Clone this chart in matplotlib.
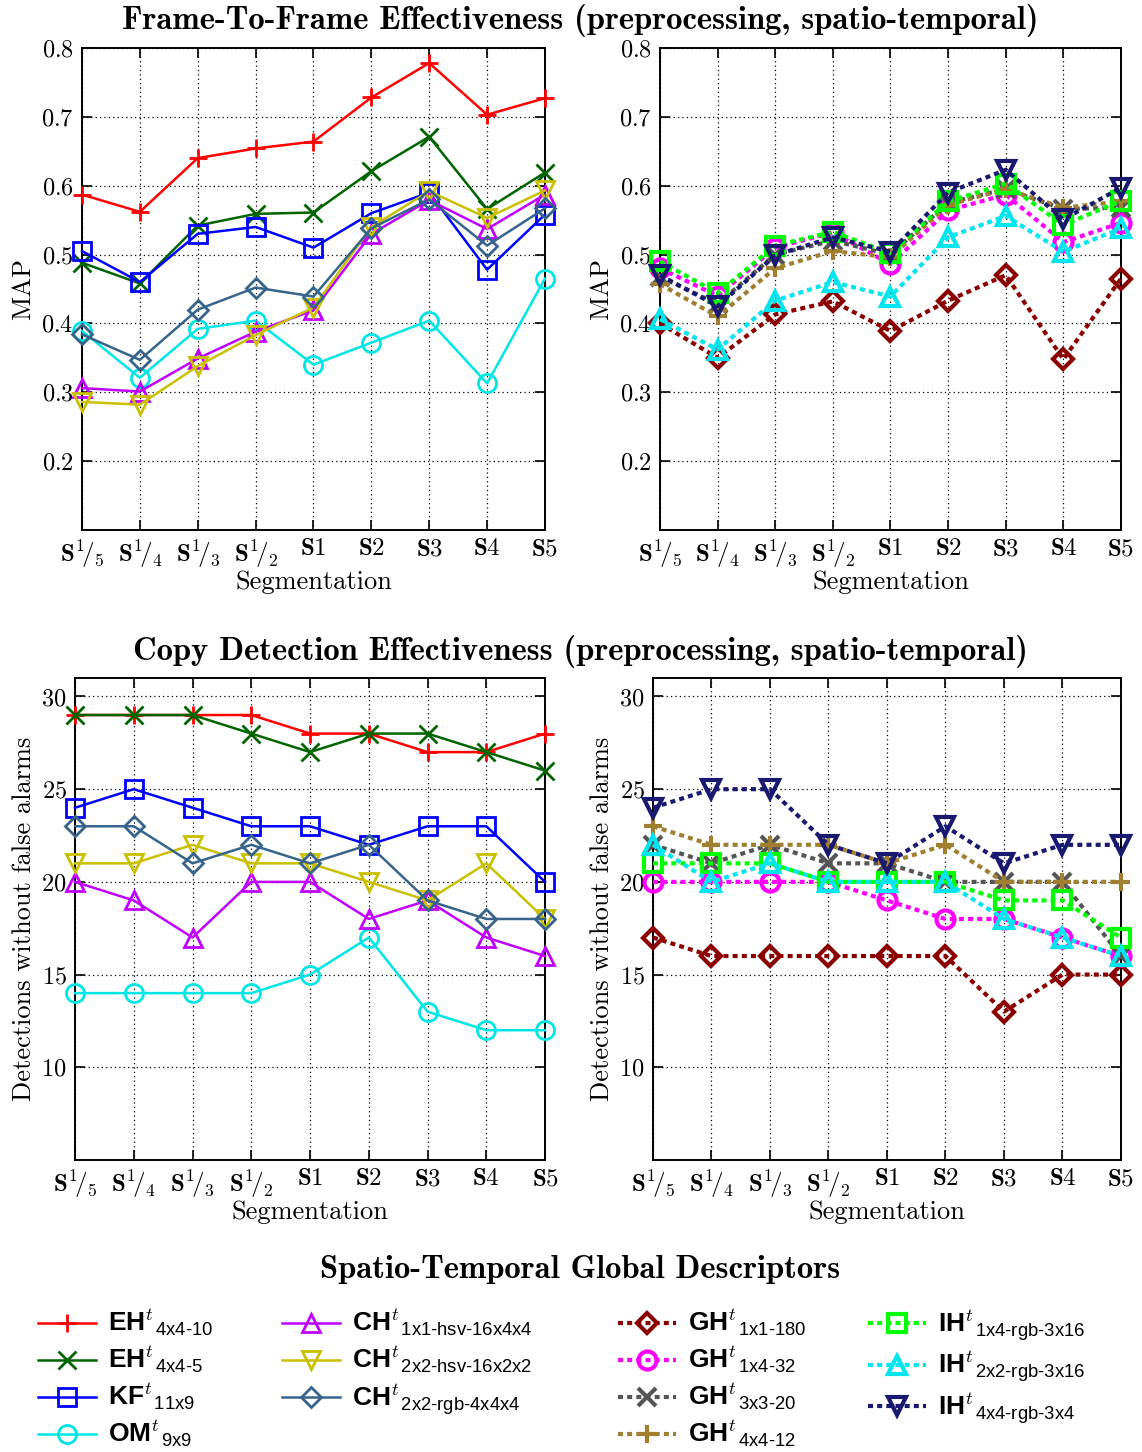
import numpy as np
import matplotlib
matplotlib.use('Agg')
import matplotlib.pyplot as plt

# fonts: computer-modern look for axes, helvetica-like for the legend
plt.rcParams['font.family'] = 'cmr10'
plt.rcParams['axes.formatter.use_mathtext'] = True
plt.rcParams['mathtext.fontset'] = 'custom'
plt.rcParams['mathtext.rm'] = 'Liberation Sans'
plt.rcParams['mathtext.bf'] = 'Liberation Sans:bold'
plt.rcParams['mathtext.it'] = 'cmmi10'

# x categories
segments = [r'$\mathbf{S^1\!/_5}$', r'$\mathbf{S^1\!/_4}$', r'$\mathbf{S^1\!/_3}$',
            r'$\mathbf{S^1\!/_2}$', r'$\mathbf{S1}$', r'$\mathbf{S2}$',
            r'$\mathbf{S3}$', r'$\mathbf{S4}$', r'$\mathbf{S5}$']

# ---- left group (solid lines) ----
left_labels = [r'$\mathbf{EH}^{t}{}_{\mathrm{4x4}\text{-}\mathrm{10}}$',
               r'$\mathbf{EH}^{t}{}_{\mathrm{4x4}\text{-}\mathrm{5}}$',
               r'$\mathbf{KF}^{t}{}_{\mathrm{11x9}}$',
               r'$\mathbf{OM}^{t}{}_{\mathrm{9x9}}$',
               r'$\mathbf{CH}^{t}{}_{\mathrm{1x1}\text{-}\mathrm{hsv}\text{-}\mathrm{16x4x4}}$',
               r'$\mathbf{CH}^{t}{}_{\mathrm{2x2}\text{-}\mathrm{hsv}\text{-}\mathrm{16x2x2}}$',
               r'$\mathbf{CH}^{t}{}_{\mathrm{2x2}\text{-}\mathrm{rgb}\text{-}\mathrm{4x4x4}}$']
left_colors = ['#ff0000', '#006400', '#0000ff', '#00e5e5', '#c000ff', '#c8c000', '#36648b']
left_markers = ['+', 'x', 's', 'o', '^', 'v', 'D']

map_eh10 = [0.587, 0.562, 0.640, 0.654, 0.664, 0.728, 0.778, 0.703, 0.727]
map_eh5 = [0.488, 0.458, 0.542, 0.559, 0.561, 0.621, 0.671, 0.566, 0.619]
map_kf = [0.505, 0.460, 0.530, 0.540, 0.510, 0.560, 0.590, 0.478, 0.558]
map_om = [0.389, 0.321, 0.392, 0.404, 0.340, 0.372, 0.404, 0.313, 0.465]
map_ch1 = [0.306, 0.301, 0.349, 0.388, 0.419, 0.530, 0.579, 0.537, 0.587]
map_ch2hsv = [0.286, 0.282, 0.338, 0.383, 0.423, 0.540, 0.592, 0.553, 0.593]
map_ch2rgb = [0.384, 0.347, 0.420, 0.452, 0.439, 0.538, 0.580, 0.513, 0.567]

det_eh10 = [29, 29, 29, 29, 28, 28, 27, 27, 28]
det_eh5 = [29, 29, 29, 28, 27, 28, 28, 27, 26]
det_kf = [24, 25, 24, 23, 23, 22, 23, 23, 20]
det_om = [14, 14, 14, 14, 15, 17, 13, 12, 12]
det_ch1 = [20, 19, 17, 20, 20, 18, 19, 17, 16]
det_ch2hsv = [21, 21, 22, 21, 21, 20, 19, 21, 18]
det_ch2rgb = [23, 23, 21, 22, 21, 22, 19, 18, 18]

# ---- right group (dashed lines) ----
right_labels = [r'$\mathbf{GH}^{t}{}_{\mathrm{1x1}\text{-}\mathrm{180}}$',
                r'$\mathbf{GH}^{t}{}_{\mathrm{1x4}\text{-}\mathrm{32}}$',
                r'$\mathbf{GH}^{t}{}_{\mathrm{3x3}\text{-}\mathrm{20}}$',
                r'$\mathbf{GH}^{t}{}_{\mathrm{4x4}\text{-}\mathrm{12}}$',
                r'$\mathbf{IH}^{t}{}_{\mathrm{1x4}\text{-}\mathrm{rgb}\text{-}\mathrm{3x16}}$',
                r'$\mathbf{IH}^{t}{}_{\mathrm{2x2}\text{-}\mathrm{rgb}\text{-}\mathrm{3x16}}$',
                r'$\mathbf{IH}^{t}{}_{\mathrm{4x4}\text{-}\mathrm{rgb}\text{-}\mathrm{3x4}}$']
right_colors = ['#8b0000', '#ff00ff', '#555555', '#a08030', '#00ff00', '#00e5ee', '#191970']
right_markers = ['D', 'o', 'x', '+', 's', '^', 'v']

map_gh1x1 = [0.400, 0.350, 0.413, 0.432, 0.389, 0.433, 0.470, 0.348, 0.465]
map_gh1x4 = [0.480, 0.440, 0.510, 0.532, 0.486, 0.564, 0.587, 0.518, 0.546]
map_gh3x3 = [0.468, 0.428, 0.500, 0.520, 0.500, 0.575, 0.595, 0.566, 0.568]
map_gh4x4 = [0.457, 0.410, 0.480, 0.505, 0.496, 0.572, 0.595, 0.568, 0.577]
map_ih1x4 = [0.490, 0.444, 0.513, 0.533, 0.502, 0.577, 0.603, 0.543, 0.578]
map_ih2x2 = [0.406, 0.362, 0.433, 0.460, 0.439, 0.525, 0.556, 0.504, 0.538]
map_ih4x4 = [0.470, 0.425, 0.499, 0.525, 0.504, 0.590, 0.623, 0.551, 0.597]

det_gh1x1 = [17, 16, 16, 16, 16, 16, 13, 15, 15]
det_gh1x4 = [20, 20, 20, 20, 19, 18, 18, 17, 16]
det_gh3x3 = [22, 21, 22, 21, 21, 20, 20, 20, 16]
det_gh4x4 = [23, 22, 22, 22, 21, 22, 20, 20, 20]
det_ih1x4 = [21, 21, 21, 20, 20, 20, 19, 19, 17]
det_ih2x2 = [22, 20, 21, 20, 20, 20, 18, 17, 16]
det_ih4x4 = [24, 25, 25, 22, 21, 23, 21, 22, 22]

left_map = [map_eh10, map_eh5, map_kf, map_om, map_ch1, map_ch2hsv, map_ch2rgb]
left_det = [det_eh10, det_eh5, det_kf, det_om, det_ch1, det_ch2hsv, det_ch2rgb]
right_map = [map_gh1x1, map_gh1x4, map_gh3x3, map_gh4x4, map_ih1x4, map_ih2x2, map_ih4x4]
right_det = [det_gh1x1, det_gh1x4, det_gh3x3, det_gh4x4, det_ih1x4, det_ih2x2, det_ih4x4]

x = np.arange(len(segments))

fig = plt.figure(figsize=(11.42, 14.52), dpi=100)

ax_tl = fig.add_axes([0.0718, 0.6350, 0.4054, 0.3320])
ax_tr = fig.add_axes([0.5779, 0.6350, 0.4037, 0.3320])
ax_bl = fig.add_axes([0.0657, 0.2011, 0.4116, 0.3320])
ax_br = fig.add_axes([0.5718, 0.2011, 0.4098, 0.3320])


def style_axes(ax, ylim, yticks, ylabel):
    ax.set_xlim(0, len(segments) - 1)
    ax.set_ylim(*ylim)
    ax.set_yticks(yticks)
    ax.set_xticks(x)
    ax.set_xticklabels(segments, math_fontfamily='cm', fontsize=18)
    ax.tick_params(axis='y', labelsize=17.5)
    ax.tick_params(direction='in', length=7, width=1.2, top=True, right=True, pad=6)
    ax.grid(True, color='black', linestyle=(0, (1, 2.5)), linewidth=0.9)
    for sp in ax.spines.values():
        sp.set_linewidth(1.4)
    ax.set_xlabel('Segmentation', fontsize=19, labelpad=0)
    ax.set_ylabel(ylabel, fontsize=19, labelpad=4)


def draw(ax, series, colors, markers, dashed):
    handles = []
    for vals, c, m in zip(series, colors, markers):
        ms = 10 if m == 'D' else 13
        if dashed:
            ln, = ax.plot(x, vals, color=c, marker=m, ms=ms, mfc='none', mew=3,
                          lw=3, linestyle=(0, (1.2, 1.0)), clip_on=False, zorder=3)
        else:
            ln, = ax.plot(x, vals, color=c, marker=m, ms=ms, mfc='none', mew=2,
                          lw=1.8, clip_on=False, zorder=3)
        handles.append(ln)
    return handles


draw(ax_tl, left_map, left_colors, left_markers, False)
draw(ax_tr, right_map, right_colors, right_markers, True)
h_left = draw(ax_bl, left_det, left_colors, left_markers, False)
h_right = draw(ax_br, right_det, right_colors, right_markers, True)

for ax in (ax_tl, ax_tr):
    style_axes(ax, (0.1, 0.8), [0.2, 0.3, 0.4, 0.5, 0.6, 0.7, 0.8], 'MAP')
for ax in (ax_bl, ax_br):
    style_axes(ax, (5, 31), [10, 15, 20, 25, 30], 'Detections without false alarms')

fig.text(0.508, 0.986, 'Frame-To-Frame Effectiveness (preprocessing, spatio-temporal)',
         family='cmb10', fontsize=23.5, ha='center', va='center')
fig.text(0.508, 0.551, 'Copy Detection Effectiveness (preprocessing, spatio-temporal)',
         family='cmb10', fontsize=23.5, ha='center', va='center')
fig.text(0.508, 0.126, 'Spatio-Temporal Global Descriptors',
         family='cmb10', fontsize=23.5, ha='center', va='center')

# legend, four columns (4, 3, 4, 3 entries)
groups = [(h_left[0:4], left_labels[0:4], 0.0219),
          (h_left[4:7], left_labels[4:7], 0.2356),
          (h_right[0:4], right_labels[0:4], 0.5298),
          (h_right[4:7], right_labels[4:7], 0.7487)]
for hs, labs, xpos in groups:
    leg = fig.legend(hs, labs, loc='upper left', bbox_to_anchor=(xpos, 0.1088),
                     frameon=False, fontsize=19, handlelength=2.2,
                     handletextpad=0.45, labelspacing=0.22, borderpad=0)

fig.savefig('out.png', dpi=100)
